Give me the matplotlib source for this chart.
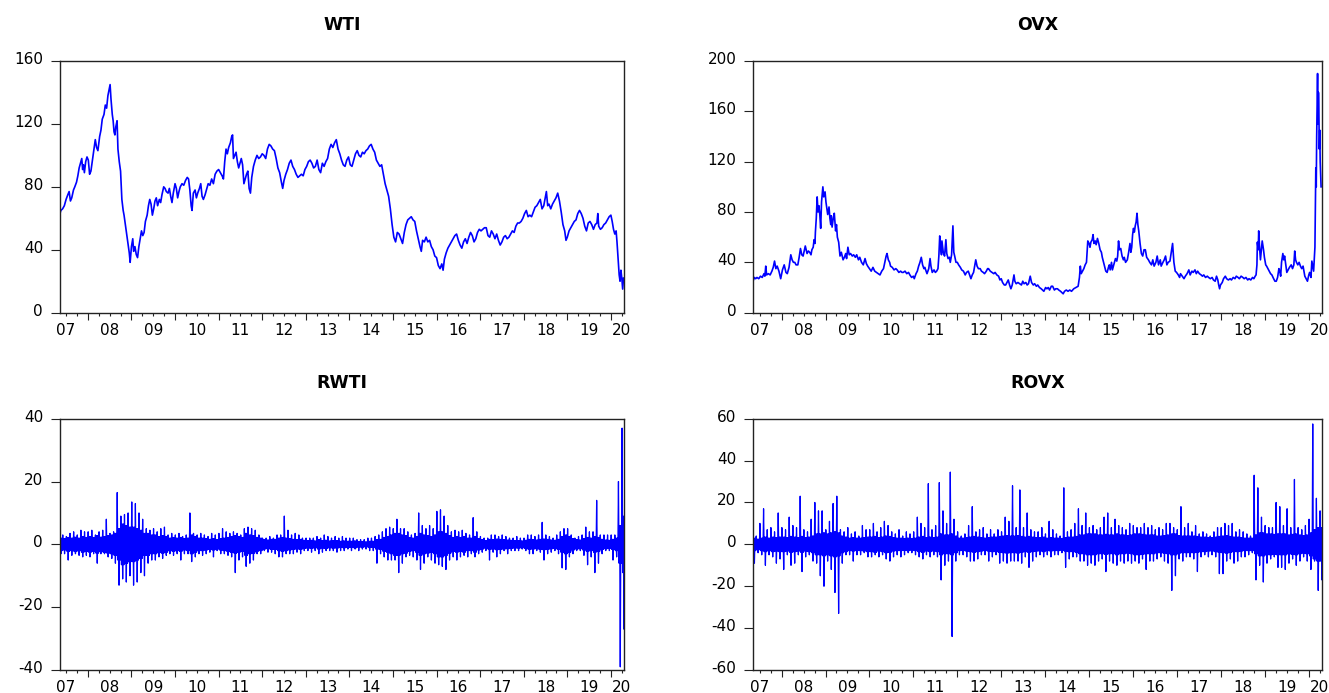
import numpy as np
import matplotlib
matplotlib.use("Agg")
import matplotlib.pyplot as plt
from matplotlib.transforms import ScaledTranslation

# ---- data (decimal year, value) ----
wti_pts = [
    (2007.35, 62), (2007.38, 65), (2007.42, 66), (2007.46, 68), (2007.50, 72), (2007.54, 75),
    (2007.57, 77), (2007.60, 71), (2007.63, 73), (2007.67, 78), (2007.70, 80), (2007.74, 83),
    (2007.77, 87), (2007.80, 92), (2007.84, 96), (2007.86, 98), (2007.88, 91), (2007.90, 94),
    (2007.92, 89), (2007.95, 96), (2007.98, 99), (2008.01, 97), (2008.04, 88), (2008.07, 90),
    (2008.10, 96), (2008.13, 102), (2008.17, 110), (2008.20, 105), (2008.23, 103), (2008.27, 112),
    (2008.30, 116), (2008.33, 123), (2008.37, 126), (2008.40, 132), (2008.43, 130), (2008.46, 138),
    (2008.49, 142), (2008.51, 145), (2008.53, 136), (2008.56, 126), (2008.58, 122), (2008.60, 115),
    (2008.62, 113), (2008.64, 118), (2008.67, 122), (2008.69, 104), (2008.72, 96), (2008.75, 90),
    (2008.78, 72), (2008.81, 65), (2008.83, 62), (2008.86, 56), (2008.89, 50), (2008.92, 44),
    (2008.95, 38), (2008.97, 32), (2009.00, 42), (2009.03, 47), (2009.05, 39), (2009.08, 42),
    (2009.11, 37), (2009.14, 35), (2009.17, 42), (2009.20, 47), (2009.23, 52), (2009.26, 49),
    (2009.29, 51), (2009.32, 58), (2009.36, 62), (2009.39, 68), (2009.42, 72), (2009.45, 69),
    (2009.48, 62), (2009.51, 66), (2009.54, 71), (2009.57, 73), (2009.60, 68), (2009.64, 72),
    (2009.67, 70), (2009.70, 75), (2009.74, 80), (2009.77, 79), (2009.80, 77), (2009.84, 76),
    (2009.87, 79), (2009.90, 74), (2009.93, 70), (2009.96, 76), (2010.00, 82), (2010.03, 79),
    (2010.06, 73), (2010.09, 77), (2010.12, 80), (2010.16, 82), (2010.20, 81), (2010.24, 84),
    (2010.28, 86), (2010.31, 85), (2010.34, 78), (2010.37, 68), (2010.39, 65), (2010.42, 76),
    (2010.46, 78), (2010.49, 73), (2010.52, 76), (2010.56, 79), (2010.59, 82), (2010.62, 74),
    (2010.65, 72), (2010.69, 75), (2010.72, 78), (2010.76, 82), (2010.80, 81), (2010.84, 85),
    (2010.88, 82), (2010.92, 88), (2010.96, 90), (2011.00, 91), (2011.04, 89), (2011.08, 87),
    (2011.11, 85), (2011.14, 96), (2011.17, 104), (2011.20, 101), (2011.23, 105), (2011.27, 108),
    (2011.30, 112), (2011.32, 113), (2011.34, 98), (2011.37, 100), (2011.40, 102), (2011.43, 96),
    (2011.46, 92), (2011.49, 95), (2011.52, 98), (2011.55, 94), (2011.58, 82), (2011.61, 85),
    (2011.64, 88), (2011.67, 90), (2011.70, 79), (2011.73, 76), (2011.76, 86), (2011.80, 93),
    (2011.84, 97), (2011.88, 100), (2011.92, 98), (2011.96, 99), (2012.00, 101), (2012.04, 100),
    (2012.08, 98), (2012.12, 104), (2012.16, 107), (2012.20, 106), (2012.24, 104), (2012.28, 103),
    (2012.32, 98), (2012.36, 92), (2012.40, 89), (2012.44, 83), (2012.47, 79), (2012.50, 84),
    (2012.54, 88), (2012.58, 91), (2012.62, 95), (2012.66, 97), (2012.70, 93), (2012.74, 91),
    (2012.78, 88), (2012.82, 86), (2012.86, 87), (2012.90, 88), (2012.94, 87), (2012.98, 91),
    (2013.02, 93), (2013.06, 96), (2013.10, 97), (2013.14, 95), (2013.18, 92), (2013.22, 93),
    (2013.26, 97), (2013.30, 91), (2013.34, 89), (2013.38, 95), (2013.42, 93), (2013.46, 96),
    (2013.50, 98), (2013.54, 104), (2013.58, 107), (2013.62, 105), (2013.66, 108), (2013.70, 110),
    (2013.74, 104), (2013.78, 101), (2013.82, 97), (2013.86, 94), (2013.90, 93), (2013.94, 97),
    (2013.98, 99), (2014.02, 94), (2014.06, 93), (2014.10, 97), (2014.14, 101), (2014.18, 103),
    (2014.22, 100), (2014.26, 99), (2014.30, 102), (2014.34, 101), (2014.38, 103), (2014.42, 104),
    (2014.46, 106), (2014.50, 107), (2014.54, 104), (2014.58, 102), (2014.62, 97), (2014.66, 95),
    (2014.70, 93), (2014.74, 94), (2014.78, 88), (2014.82, 82), (2014.86, 78), (2014.90, 74),
    (2014.94, 66), (2014.98, 56), (2015.02, 48), (2015.06, 45), (2015.10, 51), (2015.14, 50),
    (2015.18, 47), (2015.22, 44), (2015.26, 51), (2015.30, 56), (2015.34, 59), (2015.38, 60),
    (2015.42, 61), (2015.46, 59), (2015.50, 58), (2015.54, 52), (2015.58, 47), (2015.62, 42),
    (2015.65, 39), (2015.68, 46), (2015.72, 45), (2015.76, 48), (2015.80, 45), (2015.84, 46),
    (2015.88, 42), (2015.92, 40), (2015.96, 36), (2016.00, 35), (2016.04, 30), (2016.08, 28),
    (2016.12, 31), (2016.15, 27), (2016.18, 34), (2016.22, 38), (2016.26, 41), (2016.30, 43),
    (2016.34, 45), (2016.38, 47), (2016.42, 49), (2016.46, 50), (2016.50, 46), (2016.54, 43),
    (2016.58, 41), (2016.62, 45), (2016.66, 47), (2016.70, 44), (2016.74, 48), (2016.78, 51),
    (2016.82, 49), (2016.86, 45), (2016.90, 47), (2016.94, 51), (2016.98, 53), (2017.02, 52),
    (2017.06, 53), (2017.10, 54), (2017.14, 54), (2017.18, 49), (2017.22, 48), (2017.26, 52),
    (2017.30, 50), (2017.34, 47), (2017.38, 50), (2017.42, 46), (2017.46, 43), (2017.50, 45),
    (2017.54, 48), (2017.58, 49), (2017.62, 47), (2017.66, 48), (2017.70, 50), (2017.74, 52),
    (2017.78, 51), (2017.82, 55), (2017.86, 57), (2017.90, 57), (2017.94, 58), (2017.98, 60),
    (2018.02, 63), (2018.06, 65), (2018.10, 61), (2018.14, 62), (2018.18, 61), (2018.22, 64),
    (2018.26, 67), (2018.30, 68), (2018.34, 70), (2018.38, 72), (2018.42, 66), (2018.46, 68),
    (2018.50, 74), (2018.52, 77), (2018.55, 68), (2018.58, 69), (2018.62, 66), (2018.66, 69),
    (2018.70, 71), (2018.74, 73), (2018.78, 76), (2018.82, 71), (2018.86, 64), (2018.90, 56),
    (2018.94, 52), (2018.97, 46), (2019.00, 48), (2019.04, 52), (2019.08, 54), (2019.12, 56),
    (2019.16, 58), (2019.20, 59), (2019.24, 63), (2019.28, 65), (2019.32, 63), (2019.36, 60),
    (2019.40, 55), (2019.44, 52), (2019.48, 57), (2019.52, 58), (2019.56, 56), (2019.60, 53),
    (2019.64, 56), (2019.68, 57), (2019.70, 63), (2019.72, 55), (2019.76, 53), (2019.80, 54),
    (2019.84, 56), (2019.88, 57), (2019.92, 59), (2019.96, 61), (2020.00, 62), (2020.03, 58),
    (2020.06, 53), (2020.09, 50), (2020.12, 52), (2020.14, 45), (2020.17, 33), (2020.19, 24),
    (2020.21, 20), (2020.23, 27), (2020.25, 22), (2020.27, 15), (2020.29, 22),
]

ovx_pts = [
    (2007.35, 25), (2007.38, 28), (2007.41, 27), (2007.44, 28), (2007.48, 27), (2007.52, 29),
    (2007.56, 28), (2007.60, 31), (2007.62, 29), (2007.64, 37), (2007.66, 30), (2007.70, 31),
    (2007.74, 30), (2007.78, 33), (2007.81, 36), (2007.84, 41), (2007.87, 35), (2007.90, 37),
    (2007.94, 33), (2007.98, 27), (2008.02, 34), (2008.06, 38), (2008.10, 32), (2008.13, 31),
    (2008.17, 36), (2008.21, 46), (2008.24, 42), (2008.27, 40), (2008.30, 40), (2008.33, 38),
    (2008.37, 38), (2008.40, 44), (2008.43, 51), (2008.46, 46), (2008.49, 45), (2008.52, 50),
    (2008.54, 53), (2008.58, 47), (2008.61, 49), (2008.64, 48), (2008.67, 46), (2008.69, 50),
    (2008.72, 52), (2008.74, 58), (2008.76, 55), (2008.77, 64), (2008.79, 75), (2008.81, 92),
    (2008.83, 80), (2008.85, 85), (2008.87, 78), (2008.89, 67), (2008.91, 88), (2008.94, 100),
    (2008.96, 92), (2008.99, 96), (2009.01, 88), (2009.03, 83), (2009.05, 78), (2009.08, 84),
    (2009.10, 75), (2009.12, 70), (2009.13, 77), (2009.15, 68), (2009.18, 76), (2009.20, 79),
    (2009.23, 65), (2009.25, 70), (2009.27, 60), (2009.30, 56), (2009.33, 45), (2009.36, 48),
    (2009.40, 42), (2009.43, 44), (2009.46, 47), (2009.48, 43), (2009.51, 52), (2009.54, 46),
    (2009.57, 47), (2009.61, 45), (2009.64, 46), (2009.68, 44), (2009.71, 46), (2009.75, 42),
    (2009.78, 44), (2009.82, 40), (2009.86, 38), (2009.90, 43), (2009.93, 39), (2009.96, 37),
    (2010.00, 35), (2010.04, 33), (2010.08, 36), (2010.12, 33), (2010.16, 32), (2010.20, 31),
    (2010.24, 30), (2010.28, 33), (2010.32, 35), (2010.35, 40), (2010.38, 45), (2010.40, 47),
    (2010.43, 42), (2010.46, 40), (2010.48, 37), (2010.52, 36), (2010.56, 34), (2010.60, 35),
    (2010.63, 34), (2010.67, 32), (2010.71, 33), (2010.74, 32), (2010.77, 32), (2010.81, 33),
    (2010.85, 31), (2010.89, 32), (2010.92, 30), (2010.96, 28), (2011.00, 29), (2011.02, 27),
    (2011.06, 31), (2011.09, 33), (2011.12, 37), (2011.15, 40), (2011.18, 44), (2011.21, 38),
    (2011.24, 35), (2011.26, 36), (2011.29, 33), (2011.31, 31), (2011.35, 35), (2011.38, 43),
    (2011.40, 37), (2011.43, 32), (2011.47, 34), (2011.50, 32), (2011.53, 33), (2011.56, 35),
    (2011.58, 45), (2011.60, 61), (2011.62, 52), (2011.64, 46), (2011.65, 57), (2011.68, 48),
    (2011.71, 45), (2011.74, 58), (2011.76, 47), (2011.79, 43), (2011.82, 44), (2011.84, 40),
    (2011.87, 46), (2011.90, 69), (2011.92, 48), (2011.94, 45), (2011.97, 40), (2012.00, 40),
    (2012.03, 38), (2012.07, 36), (2012.10, 34), (2012.14, 33), (2012.18, 30), (2012.21, 32),
    (2012.25, 33), (2012.28, 30), (2012.31, 27), (2012.34, 30), (2012.37, 32), (2012.40, 38),
    (2012.42, 42), (2012.45, 37), (2012.48, 35), (2012.52, 35), (2012.55, 33), (2012.59, 32),
    (2012.62, 31), (2012.66, 33), (2012.69, 35), (2012.71, 35), (2012.75, 33), (2012.79, 32),
    (2012.83, 31), (2012.86, 32), (2012.90, 30), (2012.94, 29), (2012.97, 26), (2013.00, 27),
    (2013.03, 24), (2013.07, 22), (2013.10, 22), (2013.13, 24), (2013.16, 26), (2013.19, 22),
    (2013.22, 19), (2013.25, 22), (2013.29, 30), (2013.31, 25), (2013.34, 23), (2013.38, 24),
    (2013.42, 23), (2013.46, 22), (2013.49, 25), (2013.52, 23), (2013.56, 24), (2013.59, 22),
    (2013.62, 23), (2013.66, 29), (2013.69, 24), (2013.73, 22), (2013.76, 23), (2013.80, 21),
    (2013.83, 22), (2013.87, 20), (2013.91, 19), (2013.94, 18), (2013.97, 17), (2014.01, 20),
    (2014.04, 19), (2014.07, 20), (2014.10, 18), (2014.14, 21), (2014.17, 21), (2014.21, 18),
    (2014.24, 19), (2014.28, 19), (2014.31, 18), (2014.35, 17), (2014.38, 16), (2014.41, 15),
    (2014.44, 17), (2014.48, 18), (2014.52, 17), (2014.56, 18), (2014.60, 17), (2014.65, 19),
    (2014.70, 20), (2014.75, 21), (2014.78, 28), (2014.80, 37), (2014.82, 31), (2014.85, 33),
    (2014.88, 35), (2014.91, 38), (2014.94, 40), (2014.97, 57), (2015.00, 55), (2015.02, 52),
    (2015.04, 56), (2015.07, 58), (2015.09, 62), (2015.11, 55), (2015.14, 57), (2015.16, 54),
    (2015.19, 59), (2015.22, 55), (2015.25, 50), (2015.28, 48), (2015.30, 44), (2015.33, 40),
    (2015.36, 36), (2015.38, 33), (2015.41, 32), (2015.44, 36), (2015.46, 38), (2015.48, 34),
    (2015.51, 40), (2015.53, 34), (2015.56, 38), (2015.60, 43), (2015.63, 41), (2015.65, 45),
    (2015.67, 57), (2015.69, 50), (2015.72, 51), (2015.75, 45), (2015.78, 42), (2015.80, 44),
    (2015.83, 40), (2015.87, 42), (2015.90, 48), (2015.93, 55), (2015.95, 48), (2015.97, 52),
    (2015.99, 62), (2016.01, 67), (2016.03, 64), (2016.05, 69), (2016.07, 72), (2016.09, 79),
    (2016.11, 70), (2016.13, 65), (2016.16, 55), (2016.19, 47), (2016.22, 45), (2016.25, 50),
    (2016.28, 50), (2016.31, 44), (2016.35, 42), (2016.38, 40), (2016.42, 38), (2016.45, 42),
    (2016.48, 37), (2016.52, 40), (2016.55, 45), (2016.58, 38), (2016.62, 42), (2016.64, 37),
    (2016.68, 40), (2016.71, 42), (2016.74, 45), (2016.77, 38), (2016.80, 40), (2016.84, 41),
    (2016.87, 48), (2016.90, 55), (2016.93, 40), (2016.96, 33), (2016.99, 32), (2017.03, 30),
    (2017.06, 28), (2017.08, 31), (2017.12, 29), (2017.16, 27), (2017.19, 29), (2017.23, 31),
    (2017.27, 34), (2017.30, 30), (2017.34, 33), (2017.37, 32), (2017.41, 34), (2017.44, 31),
    (2017.47, 33), (2017.51, 31), (2017.55, 30), (2017.58, 29), (2017.61, 30), (2017.65, 28),
    (2017.69, 29), (2017.72, 28), (2017.76, 27), (2017.80, 28), (2017.83, 26), (2017.87, 25),
    (2017.90, 29), (2017.93, 26), (2017.95, 22), (2017.97, 19), (2017.99, 22), (2018.03, 24),
    (2018.06, 27), (2018.10, 29), (2018.13, 27), (2018.17, 26), (2018.21, 27), (2018.24, 26),
    (2018.28, 28), (2018.32, 27), (2018.35, 29), (2018.39, 28), (2018.42, 27), (2018.46, 29),
    (2018.50, 28), (2018.53, 27), (2018.57, 28), (2018.61, 26), (2018.64, 27), (2018.68, 26),
    (2018.72, 28), (2018.75, 27), (2018.78, 29), (2018.80, 30), (2018.82, 38), (2018.83, 56),
    (2018.85, 50), (2018.86, 65), (2018.88, 52), (2018.90, 42), (2018.92, 50), (2018.94, 57),
    (2018.97, 50), (2018.99, 44), (2019.02, 38), (2019.04, 37), (2019.07, 35), (2019.10, 33),
    (2019.13, 31), (2019.16, 30), (2019.20, 27), (2019.23, 25), (2019.26, 25), (2019.29, 28),
    (2019.32, 35), (2019.34, 33), (2019.36, 29), (2019.38, 40), (2019.41, 47), (2019.43, 42),
    (2019.45, 45), (2019.48, 37), (2019.50, 32), (2019.53, 34), (2019.56, 36), (2019.60, 38),
    (2019.63, 35), (2019.66, 38), (2019.68, 49), (2019.70, 42), (2019.72, 40), (2019.75, 38),
    (2019.78, 40), (2019.81, 37), (2019.84, 35), (2019.87, 37), (2019.91, 29), (2019.94, 27),
    (2019.97, 25), (2020.00, 30), (2020.02, 32), (2020.05, 28), (2020.07, 41), (2020.09, 37),
    (2020.11, 33), (2020.13, 45), (2020.14, 52), (2020.15, 80), (2020.16, 115), (2020.17, 100),
    (2020.18, 140), (2020.19, 165), (2020.20, 190), (2020.21, 150), (2020.22, 175), (2020.23, 160),
    (2020.24, 130), (2020.25, 145), (2020.26, 120), (2020.27, 110), (2020.28, 100),
]

# monthly highs / lows of the returns, May 2007 .. Apr 2020
rwti_hi = [
    3.5, 3, 2.5, 3.5, 4, 3, 4.5, 4,
    4, 4.5, 3, 4, 4.5, 8, 3.5, 4, 16.5, 9, 9.5, 10,
    13.5, 13, 10, 8, 5, 4.5, 5, 4, 5, 5.5, 3, 3.5,
    3, 3.5, 2.5, 3, 10, 3.5, 3, 3.5, 3, 2.5, 3.5, 3,
    3.5, 5, 4, 3.5, 4, 3.5, 3, 5, 5.5, 5, 4.5, 3,
    2, 2, 2.5, 2, 3, 3, 9, 4.5, 3, 3.5, 3, 2,
    2, 2, 2, 2.5, 2, 3, 2.5, 2, 2.5, 2, 2.5, 2,
    2, 2, 1.5, 1.5, 1.5, 2, 2, 2.5, 3, 4, 5, 5.5,
    5, 8, 5, 5, 4, 3, 3.5, 10, 6, 5, 6, 5,
    10.5, 11, 9, 6, 4, 4.5, 4, 4.5, 3.5, 3, 8.5, 4,
    2.5, 2, 2, 3, 3, 2.5, 3, 2.5, 2, 2, 2.5, 2,
    2, 3, 3, 2.5, 3, 7, 3, 2.5, 2, 3, 4, 5,
    5, 3, 2, 2.5, 3, 5.5, 4, 4, 14, 3, 3, 3,
    3, 3, 20, 37,
]
rwti_lo = [
    -3, -3, -5, -3.5, -3, -3.5, -4, -3.5,
    -4, -3, -6, -3, -3, -4, -4.5, -6, -13, -11, -12, -10,
    -13, -12, -9, -10, -6, -5, -5, -4, -4.5, -3.5, -3, -3.5,
    -3, -5, -3, -3, -5.5, -4, -3, -3.5, -3, -2.5, -4, -2,
    -3, -3, -3.5, -4, -9, -5, -4, -7, -6, -5, -3, -3,
    -2, -2.5, -2.5, -3, -4, -4, -3, -3, -3, -2.5, -3, -2,
    -2, -2.5, -2, -3, -2.5, -2, -2, -2, -2.5, -2, -2, -1.5,
    -2, -1.5, -2, -1.5, -1.5, -2, -2, -6, -3, -4, -5, -5,
    -5, -9, -6, -4, -3.5, -4, -5, -8, -6, -4, -5, -6,
    -6.5, -7, -8, -5, -4, -5, -4, -3.5, -4, -3, -4, -3,
    -2.5, -2, -5, -2.5, -4, -3, -2, -3, -2, -2, -2, -1.5,
    -2, -3, -3, -2, -2.5, -5, -3, -2.5, -2, -3, -7.5, -8,
    -4, -3, -2, -2, -3.5, -6.5, -4, -9, -6, -3, -2, -2,
    -5, -4, -39, -27,
]
# half-width of the dense core band, per month
rwti_core = [
    2, 1.8, 2.2, 2, 2.3, 2, 2.5, 2.2,
    2.5, 2.2, 2.8, 2.3, 2.5, 2.8, 3, 3.5, 5, 6.5, 6, 5.5,
    5.5, 5, 4.5, 3.5, 3.5, 3, 3, 2.5, 2.8, 2.5, 2, 2.2,
    2, 2.2, 1.8, 2, 3, 2.5, 2, 2, 1.8, 1.6, 1.8, 1.5,
    1.8, 2, 2.2, 2.5, 2.8, 2.5, 2.2, 3.5, 3, 2.8, 2.2, 2,
    1.5, 1.4, 1.6, 1.6, 2, 2.2, 2, 1.8, 1.6, 1.5, 1.6, 1.3,
    1.2, 1.3, 1.1, 1.5, 1.2, 1.3, 1.1, 1.2, 1.2, 1, 1.1, 1,
    1, 1.1, 0.9, 0.9, 0.8, 1, 1, 1.5, 1.6, 2.2, 2.5, 3,
    3.5, 3.5, 3, 2.8, 2.2, 2, 2.5, 3.5, 3, 2.8, 2.5, 3,
    4, 4, 3.5, 2.8, 2.2, 2.5, 2.2, 2.5, 2, 2, 2.5, 1.8,
    1.5, 1.2, 1.6, 1.5, 1.7, 1.6, 1.5, 1.4, 1.3, 1.2, 1.2, 1.1,
    1.3, 1.6, 1.5, 1.4, 1.6, 1.7, 1.6, 1.4, 1.3, 1.6, 2.5, 3,
    2.5, 1.8, 1.5, 1.4, 1.8, 2.2, 2, 2.5, 2.2, 1.6, 1.4, 1.3,
    1.6, 2, 6, 9,
]

rovx_hi = [
    5.5, 4, 10, 17, 7, 8, 6, 15,
    8, 7, 13, 9, 8, 23, 7, 6, 12, 20, 16, 16,
    7, 11, 19.5, 23, 7, 6, 8, 5, 6, 4, 9, 7,
    7, 10, 6, 8, 11, 9, 6, 5, 7, 4, 6, 5,
    6, 13, 10, 8, 29, 7, 9, 29.5, 16, 10, 34.5, 12,
    6, 4, 5, 9, 18, 6, 7, 8, 5, 7, 5, 7,
    6, 13, 11, 28, 8, 26, 8, 15, 7, 6, 6, 8,
    5, 11, 7, 5, 4, 27, 6, 7, 10, 17, 9, 15,
    8, 9, 7, 8, 13, 15, 8, 12, 9, 8, 7, 10,
    9, 8, 8, 10, 8, 9, 7, 8, 7, 10, 10, 8,
    7, 18, 8, 10, 6, 9, 5, 6, 5, 4, 6, 8,
    8, 10, 9, 10, 6, 7, 6, 5, 4, 33, 27, 13,
    9, 8, 8, 20, 18, 9, 17, 8, 31, 8, 7, 9,
    12, 57.5, 22, 16,
]
rovx_lo = [
    -9, -4, -5, -10, -5, -6, -9, -7,
    -12, -5, -10, -9, -5, -13, -6, -5, -8, -9, -15, -20,
    -8, -12, -23, -33, -9, -5, -5, -8, -5, -5, -4, -6,
    -6, -5, -6, -5, -7, -8, -6, -5, -6, -5, -4, -4,
    -5, -6, -7, -5, -6, -5, -6, -17, -10, -8, -44, -8,
    -5, -5, -6, -8, -8, -7, -5, -5, -8, -6, -5, -9,
    -8, -9, -8, -8, -8, -9, -6, -11, -8, -6, -5, -6,
    -5, -6, -5, -5, -4, -11, -7, -6, -6, -8, -8, -10,
    -9, -10, -8, -7, -13, -8, -9, -10, -8, -9, -8, -9,
    -8, -9, -7, -12, -8, -8, -7, -6, -8, -9, -22, -15,
    -7, -8, -6, -6, -7, -13, -6, -5, -6, -5, -6, -14,
    -14, -8, -7, -9, -8, -6, -6, -5, -4, -17, -10, -18,
    -9, -7, -6, -11, -11, -12, -9, -7, -10, -8, -6, -8,
    -12, -8, -22, -17,
]
rovx_core = [
    3, 2.5, 3, 3.5, 3, 3.5, 3.2, 3.5,
    3.5, 3.2, 3.8, 3.5, 3.2, 3.8, 3.2, 3.5, 4, 5, 5, 5.5,
    5, 5.5, 6, 5.5, 4, 3.5, 3, 3.2, 3, 3, 3.2, 3.5,
    3.5, 3.8, 3.2, 3.5, 4, 3.8, 3.2, 3, 3, 2.8, 3, 2.8,
    3, 3.5, 3.8, 3.2, 3.5, 3.2, 3.5, 5, 4.5, 4.5, 5, 4,
    3, 3, 3.2, 3.5, 3.8, 3.5, 3.2, 3, 3.2, 3.5, 3.5, 3.8,
    4, 4.2, 4, 4, 4.2, 3.8, 3.5, 3.8, 3.5, 3.2, 3.2, 3.5,
    3, 3.2, 3, 3, 2.8, 3.2, 3.5, 3.5, 3.8, 4.5, 4.5, 5,
    5, 5, 4.5, 4.5, 4.8, 4.5, 4.5, 5, 4.5, 4.5, 4.2, 4.5,
    5, 5, 4.8, 4.5, 4.5, 4.5, 4, 4, 4.2, 4.5, 5, 5,
    4.2, 4, 4, 4, 4, 3.8, 3.5, 3.5, 3.2, 3.2, 3.5, 3.8,
    4, 4.2, 3.8, 3.5, 3.5, 3.2, 3, 3, 3, 4.5, 5.5, 5.5,
    5, 5, 4.8, 5, 5, 5, 4.5, 4.8, 5, 4.5, 4.2, 4.5,
    5.5, 7, 8, 8,
]

year_labels = ["07", "08", "09", "10", "11", "12", "13", "14", "15", "16", "17", "18", "19", "20"]

plt.rcParams['font.family'] = ['DejaVu Sans']

X0, X1 = 2007.35, 2020.30
BLUE = '#0000ff'


def return_path(hi, lo, core):
    # per month: spike up, core swing, spike down, core swing
    hi = np.asarray(hi, float)
    lo = np.asarray(lo, float)
    c = np.asarray(core, float)
    n = len(hi)
    months = 2007 + 4 / 12 + np.arange(n) / 12
    vals = np.column_stack([hi, -c, c, lo, c, -c])
    k = vals.shape[1]
    t = months[:, None] + (np.arange(k)[None, :] + 0.5) / (k * 12)
    return t.ravel(), vals.ravel()


def style_axis(ax, fig, title, ylim, yticks):
    ax.set_xlim(X0, X1)
    ax.set_ylim(*ylim)
    ax.set_yticks(yticks)
    ax.set_yticklabels([str(y) for y in yticks])
    years = np.arange(2008, 2021)
    ax.set_xticks(years)
    ax.set_xticklabels([''] * len(years))
    quarters = [y + q / 4 for y in range(2007, 2021) for q in (1, 2, 3)]
    quarters = [q for q in quarters if X0 < q < X1]
    labs = []
    for q in quarters:
        if abs(q - int(q) - 0.5) < 1e-9 and q < 2020:
            labs.append(year_labels[int(q) - 2007])
        elif abs(q - 2020.25) < 1e-9:
            labs.append(year_labels[-1])
        else:
            labs.append('')
    ax.set_xticks(quarters, minor=True)
    ax.set_xticklabels(labs, minor=True)
    ax.tick_params(axis='x', which='major', direction='out', length=5, width=0.8,
                   top=False, colors='#222222')
    ax.tick_params(axis='x', which='minor', direction='out', length=2.5, width=0.8,
                   pad=5, labelsize=11, labelcolor='black', top=False, colors='#222222')
    ax.tick_params(axis='y', which='major', direction='out', length=6.5, width=0.8,
                   pad=5.4, labelsize=11, labelcolor='black', right=False, colors='#222222')
    for sp in ax.spines.values():
        sp.set_color('#222222')
        sp.set_linewidth(1.0)
    off = ScaledTranslation(0, 0.03, fig.dpi_scale_trans)
    for lab in ax.get_yticklabels():
        lab.set_transform(lab.get_transform() + off)
    ax.set_title(title, fontsize=12.5, fontweight='bold', pad=22)


fig = plt.figure(figsize=(13.29, 6.93), dpi=100)

ax1 = fig.add_axes([0.0448, 0.5488, 0.4247, 0.3632])
ax2 = fig.add_axes([0.5666, 0.5488, 0.4281, 0.3632])
ax3 = fig.add_axes([0.0448, 0.0332, 0.4247, 0.3626])
ax4 = fig.add_axes([0.5666, 0.0332, 0.4281, 0.3626])

wti = np.array(wti_pts)
ovx = np.array(ovx_pts)
ax1.plot(wti[:, 0], wti[:, 1], color=BLUE, lw=1.2)
ax2.plot(ovx[:, 0], ovx[:, 1], color=BLUE, lw=1.2)

t, v = return_path(rwti_hi, rwti_lo, rwti_core)
ax3.plot(t, v, color=BLUE, lw=0.9)
t, v = return_path(rovx_hi, rovx_lo, rovx_core)
ax4.plot(t, v, color=BLUE, lw=0.9)

style_axis(ax1, fig, 'WTI', (0, 160), [0, 40, 80, 120, 160])
style_axis(ax2, fig, 'OVX', (0, 200), [0, 40, 80, 120, 160, 200])
style_axis(ax3, fig, 'RWTI', (-40, 40), [-40, -20, 0, 20, 40])
style_axis(ax4, fig, 'ROVX', (-60, 60), [-60, -40, -20, 0, 20, 40, 60])

fig.savefig('out.png', dpi=100)
